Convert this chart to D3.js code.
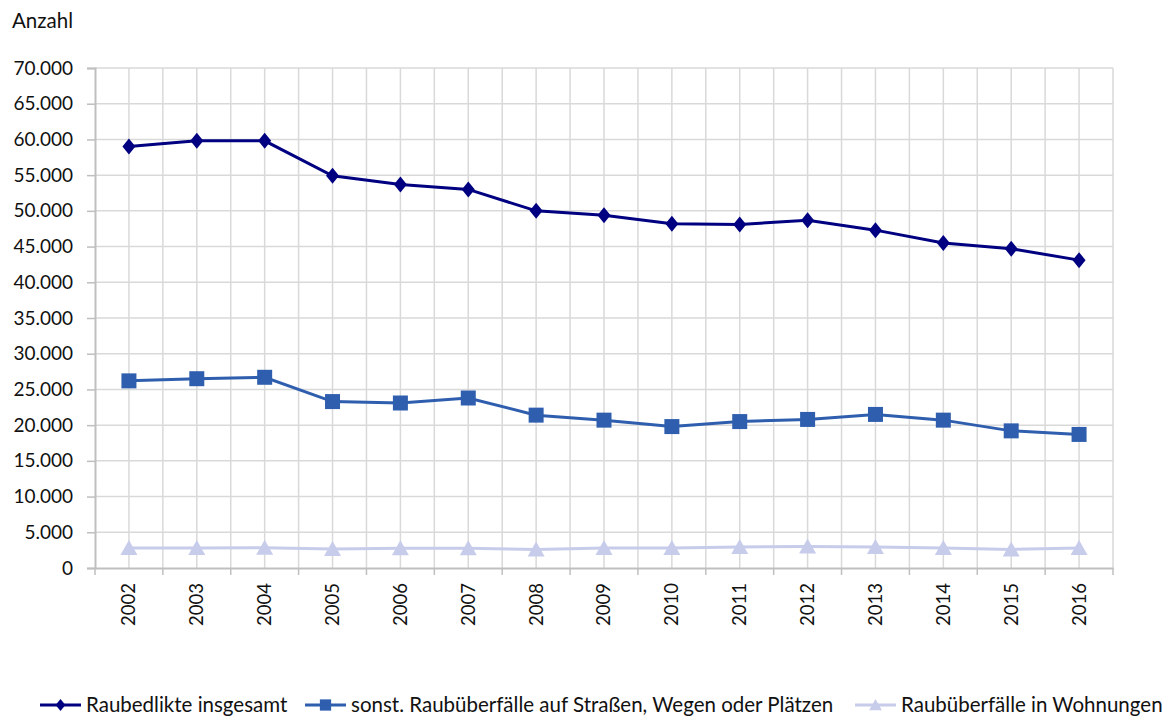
<!DOCTYPE html>
<html><head><meta charset="utf-8">
<script src="https://cdn.jsdelivr.net/npm/d3@7/dist/d3.min.js"></script>
<style>body{margin:0;background:#fff}text{font-family:Lato,"Open Sans",sans-serif;fill:#111}</style>
</head><body><svg id="c" width="1175" height="718"></svg>
<script>
const years = ["2002","2003","2004","2005","2006","2007","2008","2009","2010","2011","2012","2013","2014","2015","2016"];
const raubGesamt = [59000,59800,59800,54900,53700,53000,50000,49400,48200,48100,48700,47300,45500,44700,43100];
const raubStrassen = [26200,26500,26700,23300,23100,23800,21400,20700,19800,20500,20800,21500,20700,19200,18700];
const raubWohnungen = [2800,2800,2850,2650,2750,2750,2600,2800,2800,2950,3000,2950,2800,2600,2800];
const seriesNames = ["Raubedlikte insgesamt","sonst. Raubüberfälle auf Straßen, Wegen oder Plätzen","Raubüberfälle in Wohnungen"];
const yTicks = [0,5000,10000,15000,20000,25000,30000,35000,40000,45000,50000,55000,60000,65000,70000];

const svg = d3.select("#c");
const L=95, R=1113, T=68, B=568;
const x = d3.scaleBand().domain(years).range([L,R]);
const y = d3.scaleLinear().domain([0,70000]).range([B,T]);
const fmt = v => v===0 ? "0" : d3.format(",")(v).replace(/,/g,".");

// grid
const g = svg.append("g");
g.selectAll("line.h").data(yTicks.filter(d=>d>0)).enter().append("line")
 .attr("x1",L).attr("x2",R).attr("y1",d=>y(d)).attr("y2",d=>y(d))
 .attr("stroke","#d9d9d9").attr("stroke-width",1.5);
const vpos = [];
years.forEach((yr,i)=>{vpos.push(x(yr)+x.bandwidth()/2); vpos.push(x(yr)+x.bandwidth());});
g.selectAll("line.v").data(vpos).enter().append("line")
 .attr("x1",d=>d).attr("x2",d=>d).attr("y1",T).attr("y2",B)
 .attr("stroke","#d9d9d9").attr("stroke-width",1.5);

// y axis
const ya = svg.append("g").attr("transform",`translate(${L},0)`)
 .call(d3.axisLeft(y).tickValues(yTicks).tickFormat(fmt).tickSize(8).tickPadding(14));
ya.select(".domain").attr("stroke","#bfbfbf").attr("stroke-width",2);
ya.selectAll(".tick line").attr("stroke","#bfbfbf").attr("stroke-width",1.5);
ya.selectAll("text").style("font-size","19px").attr("fill","#111");

// x axis
const xa = svg.append("g").attr("transform",`translate(0,${B})`)
 .call(d3.axisBottom(x).tickSize(0).tickPadding(0));
xa.select(".domain").attr("stroke","#bfbfbf").attr("stroke-width",2);
xa.selectAll(".tick line").remove();
xa.selectAll(".tick text").attr("transform","rotate(-90)").attr("x",-15).attr("y",0)
 .attr("dy","0.35em").attr("text-anchor","end").style("font-size","18.5px").attr("fill","#111");
svg.append("g").selectAll("line").data([L].concat(years.map(yr=>x(yr)+x.bandwidth()))).enter().append("line")
 .attr("x1",d=>d).attr("x2",d=>d).attr("y1",B).attr("y2",B+7).attr("stroke","#bfbfbf").attr("stroke-width",1.5);

svg.append("text").attr("x",12).attr("y",28).style("font-size","20.5px").text("Anzahl");

const cx = yr => x(yr)+x.bandwidth()/2;
const line = d3.line().x((d,i)=>cx(years[i])).y(d=>y(d));
const diamond = "M0,-8L6.5,0L0,8L-6.5,0Z";
const square = "M-7.5,-7.5H7.5V7.5H-7.5Z";
const tri = "M0,-8L8.5,7L-8.5,7Z";
const series = [
 {vals:raubGesamt,color:"#000080",sym:diamond,w:3},
 {vals:raubStrassen,color:"#2f5eae",sym:square,w:3},
 {vals:raubWohnungen,color:"#c7cceb",sym:tri,w:3}
];
series.forEach(s=>{
 svg.append("path").datum(s.vals).attr("d",line).attr("fill","none").attr("stroke",s.color).attr("stroke-width",s.w);
 svg.append("g").selectAll("path").data(s.vals).enter().append("path")
  .attr("d",s.sym).attr("transform",(d,i)=>`translate(${cx(years[i])},${y(d)})`).attr("fill",s.color);
});

// legend
const legX = [40,305,855];
const lg = svg.append("g");
series.forEach((s,i)=>{
 const lx = legX[i], ly=705;
 lg.append("line").attr("x1",lx).attr("x2",lx+41).attr("y1",ly).attr("y2",ly).attr("stroke",s.color).attr("stroke-width",3);
 lg.append("path").attr("d",s.sym).attr("transform",`translate(${lx+20.5},${ly}) scale(0.75)`).attr("fill",s.color);
 lg.append("text").attr("x",lx+46).attr("y",ly).attr("dy","0.35em").style("font-size","20.5px").text(seriesNames[i]);
});
</script></body></html>
